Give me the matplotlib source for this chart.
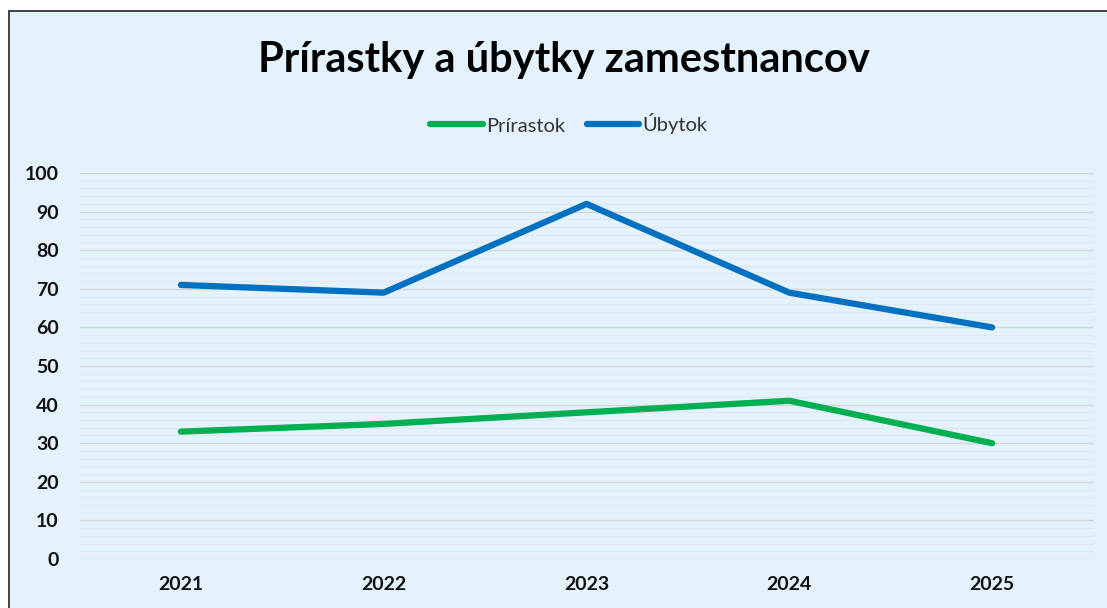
import matplotlib.pyplot as plt
from matplotlib.patches import Rectangle
from matplotlib.ticker import MultipleLocator

# data
years = ["2021", "2022", "2023", "2024", "2025"]
prirastok = [33, 35, 38, 41, 30]
ubytok = [71, 69, 92, 69, 60]

plt.rcParams['font.family'] = ['Lato', 'DejaVu Sans']

W, H = 1107, 608
fig = plt.figure(figsize=(W / 100, H / 100), dpi=100)
fig.patch.set_facecolor('white')

# chart area box (top-left border visible only)
bg = '#E3F2FD'
fig.patches.append(Rectangle((9 / W, -0.1), 1.2, (H - 11) / H + 0.1,
                             transform=fig.transFigure, facecolor=bg,
                             edgecolor='#222222', linewidth=1.2, zorder=-10))

ax = fig.add_axes([79.5 / W, (H - 559) / H, (1093.5 - 79.5) / W, (559 - 173) / H])
ax.patch.set_alpha(0)

x = range(len(years))
ax.plot(x, prirastok, color='#00B050', lw=4.5, solid_capstyle='round', label='Prírastok')
ax.plot(x, ubytok, color='#0070C0', lw=4.5, solid_capstyle='round', label='Úbytok')

ax.set_xlim(-0.5, len(years) - 0.5)
ax.set_ylim(0, 100)
ax.yaxis.set_major_locator(MultipleLocator(10))
ax.yaxis.set_minor_locator(MultipleLocator(2))
ax.grid(which='major', axis='y', color='#D4D4D4', lw=1.0)
ax.grid(which='minor', axis='y', color='#E2E8EE', lw=0.8)
ax.set_axisbelow(True)
ax.set_xticks(list(x))
ax.set_xticklabels(years)
for s in ax.spines.values():
    s.set_visible(False)
ax.tick_params(which='both', length=0)
ax.tick_params(axis='y', pad=15)
ax.tick_params(axis='x', pad=12)
for lab in ax.get_xticklabels() + ax.get_yticklabels():
    lab.set_fontweight('bold')
    lab.set_fontsize(14)
    lab.set_color('#111111')

fig.text(564 / W, 1 - 60 / H, 'Prírastky a úbytky zamestnancov', ha='center', va='center',
         fontsize=30, fontweight='bold', color='black')

ax.legend(loc='center', bbox_to_anchor=(569 / W, 1 - 124 / H), bbox_transform=fig.transFigure,
          ncol=2, frameon=False, fontsize=14.5, handlelength=2.6, handletextpad=0.15,
          columnspacing=1.1, labelcolor='#333333')

fig.savefig('out.png', dpi=100, facecolor='white')
